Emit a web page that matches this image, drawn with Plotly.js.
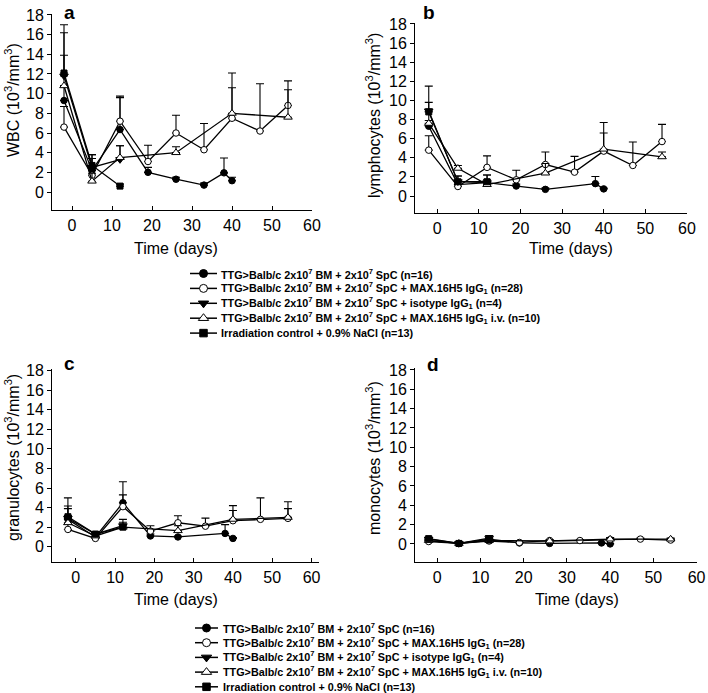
<!DOCTYPE html>
<html><head><meta charset="utf-8">
<script src="https://cdn.plot.ly/plotly-3.0.1.min.js"></script>
<style>html,body{margin:0;padding:0;background:#fff}#chart{width:708px;height:693px}</style>
</head><body><div id="chart"></div>
<script>
// ---------- data ----------
const days = [-2, 5, 12, 19, 26, 33, 38, 40, 47, 54];
const xTickVals = [0, 10, 20, 30, 40, 50, 60];
const yTickVals = [0, 2, 4, 6, 8, 10, 12, 14, 16, 18];
const seriesNames = [
  "TTG&gt;Balb/c 2x10<sup>7</sup> BM + 2x10<sup>7</sup> SpC (n=16)",
  "TTG&gt;Balb/c 2x10<sup>7</sup> BM + 2x10<sup>7</sup> SpC + MAX.16H5 IgG<sub>1</sub> (n=28)",
  "TTG&gt;Balb/c 2x10<sup>7</sup> BM + 2x10<sup>7</sup> SpC + isotype IgG<sub>1</sub> (n=4)",
  "TTG&gt;Balb/c 2x10<sup>7</sup> BM + 2x10<sup>7</sup> SpC + MAX.16H5 IgG<sub>1</sub> i.v. (n=10)",
  "Irradiation control + 0.9% NaCl (n=13)"
];
const panelLetters = ["a", "b", "c", "d"];
const panelYTitles = [
  "WBC (10<sup>3</sup>/mm<sup>3</sup>)",
  "lymphocytes (10<sup>3</sup>/mm<sup>3</sup>)",
  "granulocytes (10<sup>3</sup>/mm<sup>3</sup>)",
  "monocytes (10<sup>3</sup>/mm<sup>3</sup>)"
];
const xTitle = "Time (days)";

// a: WBC
const wbcBM   = [9.3, 2.2, 6.35, 2.0, 1.3, 0.7, 1.95, 1.15, null, null];
const wbcBMErr= [1.5, 1.2, 3.25, 0.5, 0.2, 0.2, 1.5, 0.35, null, null];
const wbcMAX  = [6.6, 1.7, 7.2, 3.1, 6.0, 4.3, null, 7.5, 6.2, 8.8];
const wbcMAXErr=[2.1, 1.0, 2.55, 1.65, 1.8, 2.66, null, 3.1, 4.8, 2.5];
const wbcIso  = [11.8, 2.5, 3.3, null, null, null, null, null, null, null];
const wbcIsoErr=[5.2, 1.3, 1.4, null, null, null, null, null, null, null];
const wbcIV   = [10.8, 1.1, 3.5, null, 4.0, null, null, 8.0, null, 7.6];
const wbcIVErr= [3.1, 0.8, 1.2, null, 0.6, null, null, 4.1, null, 2.8];
const wbcIrr  = [12.1, 2.7, 0.6, null, null, null, null, null, null, null];
const wbcIrrErr=[4.1, 1.1, 0.2, null, null, null, null, null, null, null];

// b: lymphocytes
const lymBM   = [7.3, 1.2, 1.4, 1.05, 0.7, null, 1.3, 0.75, null, null];
const lymBMErr= [0.6, 0.3, 0.3, 0.2, 0.15, null, 0.75, 0.1, null, null];
const lymMAX  = [4.8, 1.0, 3.0, 1.7, 3.3, 2.5, null, 4.7, 3.2, 5.7];
const lymMAXErr=[1.5, 0.5, 1.2, 1.0, 1.3, 1.65, null, 1.9, 2.45, 1.8];
const lymIso  = [8.9, 1.5, 1.4, null, null, null, null, null, null, null];
const lymIsoErr=[2.6, 0.6, 0.8, null, null, null, null, null, null, null];
const lymIV   = [7.6, 2.9, 1.2, null, 2.4, null, null, 4.9, null, 4.1];
const lymIVErr= [2.2, 0.3, 0.3, null, 1.0, null, null, 2.8, null, 0.5];
const lymIrr  = [8.8, 1.5, 1.5, null, null, null, null, null, null, null];
const lymIrrErr=[0.3, 0.6, 0.7, null, null, null, null, null, null, null];

// c: granulocytes
const graBM   = [2.8, 1.0, 4.5, 1.1, 1.0, null, 1.36, 0.85, null, null];
const graBMErr= [2.2, 0.2, 2.15, 0.2, 0.1, null, 0.9, 0.1, null, null];
const graMAX  = [1.77, 0.85, 4.1, 1.6, 2.45, 2.1, null, 2.66, 2.8, 2.9];
const graMAXErr=[0.5, 0.2, 1.2, 0.55, 0.72, 0.83, null, 1.04, 2.2, 1.0];
const graIso  = [2.9, 1.3, 2.15, null, null, null, null, null, null, null];
const graIsoErr=[0.3, 0.2, 0.65, null, null, null, null, null, null, null];
const graIV   = [2.45, 1.1, 2.0, null, 1.64, null, null, 2.8, null, 3.0];
const graIVErr= [1.45, 0.2, 0.5, null, 0.5, null, null, 1.4, null, 1.6];
const graIrr  = [3.07, 1.3, 2.0, null, null, null, null, null, null, null];
const graIrrErr=[1.1, 0.2, 0.3, null, null, null, null, null, null, null];

// d: monocytes
const monBM   = [0.35, 0.05, 0.5, 0.1, 0.05, null, 0.1, 0.0, null, null];
const monBMErr= [0.1, 0.05, 0.15, 0.05, 0.05, null, 0.05, 0.05, null, null];
const monMAX  = [0.25, 0.05, 0.3, 0.15, 0.35, 0.35, null, 0.45, 0.5, 0.4];
const monMAXErr=[0.1, 0.05, 0.1, 0.05, 0.1, 0.1, null, 0.15, 0.1, 0.1];
const monIso  = [0.5, 0.05, 0.6, null, null, null, null, null, null, null];
const monIsoErr=[0.1, 0.05, 0.27, null, null, null, null, null, null, null];
const monIV   = [0.35, 0.05, 0.35, null, 0.3, null, null, 0.5, null, 0.5];
const monIVErr= [0.1, 0.05, 0.1, null, 0.1, null, null, 0.15, null, 0.1];
const monIrr  = [0.55, 0.05, 0.4, null, null, null, null, null, null, null];
const monIrrErr=[0.1, 0.05, 0.1, null, null, null, null, null, null, null];

const panelValues = [
  [[wbcBM, wbcBMErr], [wbcMAX, wbcMAXErr], [wbcIso, wbcIsoErr], [wbcIV, wbcIVErr], [wbcIrr, wbcIrrErr]],
  [[lymBM, lymBMErr], [lymMAX, lymMAXErr], [lymIso, lymIsoErr], [lymIV, lymIVErr], [lymIrr, lymIrrErr]],
  [[graBM, graBMErr], [graMAX, graMAXErr], [graIso, graIsoErr], [graIV, graIVErr], [graIrr, graIrrErr]],
  [[monBM, monBMErr], [monMAX, monMAXErr], [monIso, monIsoErr], [monIV, monIVErr], [monIrr, monIrrErr]]
];

// ---------- styles / layout geometry (pixels) ----------
const W = 708, H = 693;
const FONT = "Arial, 'Liberation Sans', Helvetica, sans-serif";
const markerStyles = [
  {symbol: "circle", color: "#000", size: 6.5},
  {symbol: "circle", color: "#fff", size: 6.5},
  {symbol: "triangle-down", color: "#000", size: 7.5},
  {symbol: "triangle-up", color: "#fff", size: 7.5},
  {symbol: "square", color: "#000", size: 6}
];
const panelBoxes = [
  {x0: 52, x1: 312, y0: 14, y1: 210, xr: [-5, 60], yr: [-1.83, 18.1]},
  {x0: 415, x1: 687, y0: 23, y1: 212.5, xr: [-5.3, 60], yr: [-1.72, 18.1]},
  {x0: 52, x1: 319, y0: 369, y1: 562, xr: [-6.05, 61.9], yr: [-1.56, 18.17]},
  {x0: 415, x1: 697, y0: 368, y1: 562, xr: [-5.16, 60.1], yr: [-1.87, 18.2]}
];
const letterPos = [[69, 0.5], [429, 0.5], [69, 351], [433, 352]];
const yTitlePos = [[12, 100], [373, 116], [12, 458], [373, 458]];
const xTitlePos = [[176, 248], [571, 249], [176, 599], [577, 599]];
const legendBlocks = [
  {lx0: 190, lx1: 217, tx: 219, top: 273.5, step: 14.9},
  {lx0: 195, lx1: 218, tx: 221, top: 628, step: 14.7}
];

const px = v => v / W;
const py = v => 1 - v / H;

const traces = [];
const layout = {
  width: W, height: H,
  margin: {l: 0, r: 0, t: 0, b: 0},
  paper_bgcolor: "#fff", plot_bgcolor: "rgba(0,0,0,0)",
  showlegend: false,
  font: {family: FONT, color: "#000", size: 16},
  annotations: []
};

panelBoxes.forEach((b, p) => {
  const n = p + 1;
  const sfx = n === 1 ? "" : String(n);
  layout["xaxis" + sfx] = {
    domain: [px(b.x0), px(b.x1)], range: b.xr, anchor: "y" + sfx,
    tickvals: xTickVals, ticks: "inside", ticklen: 4, tickwidth: 1, tickcolor: "#000",
    showline: true, linecolor: "#000", linewidth: 1, showgrid: false, zeroline: false,
    tickfont: {family: FONT, size: 16, color: "#000"}, ticklabelstandoff: 1, fixedrange: true
  };
  layout["yaxis" + sfx] = {
    domain: [py(b.y1), py(b.y0)], range: b.yr, anchor: "x" + sfx,
    tickvals: yTickVals, ticks: "outside", ticklen: 4, tickwidth: 1, tickcolor: "#000",
    showline: true, linecolor: "#000", linewidth: 1, showgrid: false, zeroline: false,
    tickfont: {family: FONT, size: 16, color: "#000"}, fixedrange: true
  };
  panelValues[p].forEach((sv, s) => {
    const ms = markerStyles[s];
    traces.push({
      type: "scatter", mode: "lines+markers",
      x: days, y: sv[0], connectgaps: true, cliponaxis: false,
      xaxis: "x" + sfx, yaxis: "y" + sfx,
      line: {color: "#000", width: 1.3},
      marker: {symbol: ms.symbol, color: ms.color, size: ms.size, line: {color: "#000", width: 1}},
      error_y: {type: "data", symmetric: false, array: sv[1], arrayminus: sv[1].map(v => v === null ? null : 0),
        color: "#000", thickness: 1.1, width: 4},
      name: seriesNames[s], hoverinfo: "x+y"
    });
  });
  layout.annotations.push({
    xref: "paper", yref: "paper", x: px(letterPos[p][0]), y: py(letterPos[p][1]),
    xanchor: "center", yanchor: "top", showarrow: false,
    text: "<b>" + panelLetters[p] + "</b>", font: {family: FONT, size: 19, color: "#000"}
  });
  layout.annotations.push({
    xref: "paper", yref: "paper", x: px(yTitlePos[p][0]), y: py(yTitlePos[p][1]),
    xanchor: "center", yanchor: "middle", showarrow: false, textangle: -90,
    text: panelYTitles[p], font: {family: FONT, size: 16, color: "#000"}
  });
  layout.annotations.push({
    xref: "paper", yref: "paper", x: px(xTitlePos[p][0]), y: py(xTitlePos[p][1]),
    xanchor: "center", yanchor: "middle", showarrow: false,
    text: xTitle, font: {family: FONT, size: 16, color: "#000"}
  });
});

// legend overlay axis in pixel units
layout.xaxis5 = {domain: [0, 1], range: [0, W], visible: false, fixedrange: true, anchor: "y5"};
layout.yaxis5 = {domain: [0, 1], range: [H, 0], visible: false, fixedrange: true, anchor: "x5"};
legendBlocks.forEach(lb => {
  seriesNames.forEach((name, s) => {
    const ry = lb.top + s * lb.step;
    const ms = markerStyles[s];
    traces.push({type: "scatter", mode: "lines", x: [lb.lx0, lb.lx1], y: [ry, ry], xaxis: "x5", yaxis: "y5",
      line: {color: "#000", width: 1.5}, hoverinfo: "skip", cliponaxis: false});
    traces.push({type: "scatter", mode: "markers", x: [(lb.lx0 + lb.lx1) / 2], y: [ry], xaxis: "x5", yaxis: "y5",
      marker: {symbol: ms.symbol, color: ms.color, size: ms.size + 1.5, line: {color: "#000", width: 1}},
      hoverinfo: "skip", cliponaxis: false});
    layout.annotations.push({
      xref: "paper", yref: "paper", x: px(lb.tx), y: py(ry), xanchor: "left", yanchor: "middle",
      showarrow: false, text: "<b>" + name + "</b>", font: {family: FONT, size: 10.8, color: "#000"}
    });
  });
});

Plotly.newPlot("chart", traces, layout, {staticPlot: true, displayModeBar: false});
</script>
</body></html>
